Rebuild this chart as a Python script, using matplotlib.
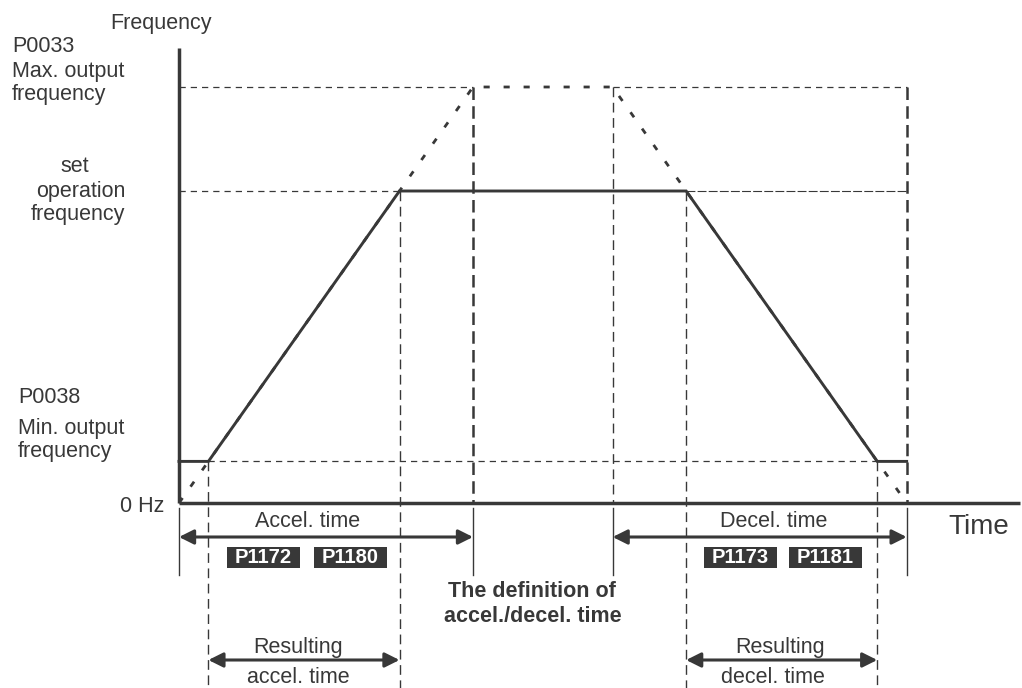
import matplotlib
matplotlib.use('Agg')
import matplotlib.pyplot as plt
from matplotlib.patches import Rectangle

plt.rcParams['font.family'] = ['Liberation Sans', 'DejaVu Sans']

# frequency levels (% of max. output frequency)
f_max = 100
f_set = 75
f_min = 10

# time points (arbitrary units)
t_acc = 10          # accel time P1172 / P1180 (0 -> f_max)
t_dec0 = 14.75      # start of decel reference ramp
t_dec = 10          # decel time P1173 / P1181 (f_max -> 0)
t_dec_end = t_dec0 + t_dec

# resulting profile
prof_t = [0, t_acc * f_min / f_max, t_acc * f_set / f_max,
          t_dec0 + t_dec * (1 - f_set / f_max),
          t_dec0 + t_dec * (1 - f_min / f_max), t_dec_end]
prof_f = [f_min, f_min, f_set, f_set, f_min, f_min]

# reference ramp (0 -> max -> 0)
ref_t = [0, t_acc, t_dec0, t_dec_end]
ref_f = [0, f_max, f_max, 0]

acc_boxes = ['P1172', 'P1180']
dec_boxes = ['P1173', 'P1181']

W, H = 1022, 688
C = '#383838'
px_t = 29.4   # pixels per time unit
px_f = 4.16   # pixels per frequency unit
x0, y0 = 179, 503

fig = plt.figure(figsize=(W / 100, H / 100), dpi=100)
ax = fig.add_axes([0, 0, 1, 1])
ax.set_xlim(-x0 / px_t, (W - x0) / px_t)
ax.set_ylim((y0 - H) / px_f, y0 / px_f)
ax.axis('off')
y_bot = (y0 - H) / px_f

def fpx(y):
    return (y0 - y) / px_f

thin = dict(color=C, lw=0.9, dashes=(5, 4))
vdash = dict(color=C, lw=1.0, dashes=(7, 4))

# axes
ax.plot([0, 0], [0, fpx(48)], color=C, lw=2.5, solid_capstyle='butt')
ax.plot([0, (W - 2 - x0) / px_t], [0, 0], color=C, lw=2.5, solid_capstyle='butt')

# horizontal guide lines
ax.plot([0, t_acc], [f_max, f_max], **thin)
ax.plot([t_dec0, t_dec_end], [f_max, f_max], **thin)
ax.plot([0, prof_t[2]], [f_set, f_set], **thin)
ax.plot([prof_t[3], t_dec_end], [f_set, f_set], color=C, lw=0.8, dashes=(8, 2))
ax.plot([prof_t[1], prof_t[4]], [f_min, f_min], **thin)

# vertical guide lines
for t, f in [(prof_t[1], f_min), (prof_t[2], f_set), (prof_t[3], f_set), (prof_t[4], f_min)]:
    ax.plot([t, t], [f, y_bot], **vdash)
ax.plot([t_dec0, t_dec0], [f_max, 0], **vdash)
for t in [t_acc, t_dec_end]:
    ax.plot([t, t], [f_max, 0], color=C, lw=1.8, dashes=(5, 2.5))
for t in ref_t:
    ax.plot([t, t], [fpx(508), fpx(575)], color=C, lw=1.0)

# reference ramp
ax.plot(ref_t, ref_f, color=C, lw=2.0, dashes=(2.2, 5))

# resulting profile
ax.plot(prof_t, prof_f, color=C, lw=2.1, solid_joinstyle='miter')

# arrows
def arrow(ta, tb, y):
    ax.annotate('', xy=(tb, y), xytext=(ta, y),
                arrowprops=dict(arrowstyle='<|-|>', color=C, lw=2.2,
                                mutation_scale=22, shrinkA=0, shrinkB=0))

arrow(0, t_acc, fpx(537))
arrow(t_dec0, t_dec_end, fpx(537))
arrow(prof_t[1], prof_t[2], fpx(660))
arrow(prof_t[3], prof_t[4], fpx(660))

# text helpers
def txt(x, y, s, ha='left', size=15.5, **kw):
    fig.text(x / W, 1 - y / H, s, ha=ha, va='baseline', fontsize=size, color=C, **kw)

txt(110, 29, 'Frequency')
txt(12, 52, 'P0033')
txt(12, 77, 'Max. output')
txt(12, 100, 'frequency')
txt(75, 172, 'set', ha='center')
txt(81, 197, 'operation', ha='center')
txt(78, 220, 'frequency', ha='center')
txt(18, 403, 'P0038')
txt(18, 434, 'Min. output')
txt(18, 457, 'frequency')
txt(164, 512, '0 Hz', ha='right')
txt(308, 527, 'Accel. time', ha='center')
txt(774, 527, 'Decel. time', ha='center')
txt(948, 534, 'Time', size=20)
txt(532, 597, 'The definition of', ha='center', fontweight='bold')
txt(533, 622, 'accel./decel. time', ha='center', fontweight='bold')
txt(298, 653, 'Resulting', ha='center')
txt(298, 683, 'accel. time', ha='center')
txt(780, 653, 'Resulting', ha='center')
txt(773, 683, 'decel. time', ha='center')

# parameter boxes
for labels, xs in [(acc_boxes, [227, 314]), (dec_boxes, [704, 789])]:
    for lab, xl in zip(labels, xs):
        fig.add_artist(Rectangle((xl / W, 1 - 568 / H), 73 / W, 21 / H,
                                 transform=fig.transFigure, color=C, lw=0))
        fig.text((xl + 36.5) / W, 1 - 557.5 / H, lab, ha='center', va='center',
                 fontsize=14.5, fontweight='bold', color='white')

fig.savefig('out.png', dpi=100)
